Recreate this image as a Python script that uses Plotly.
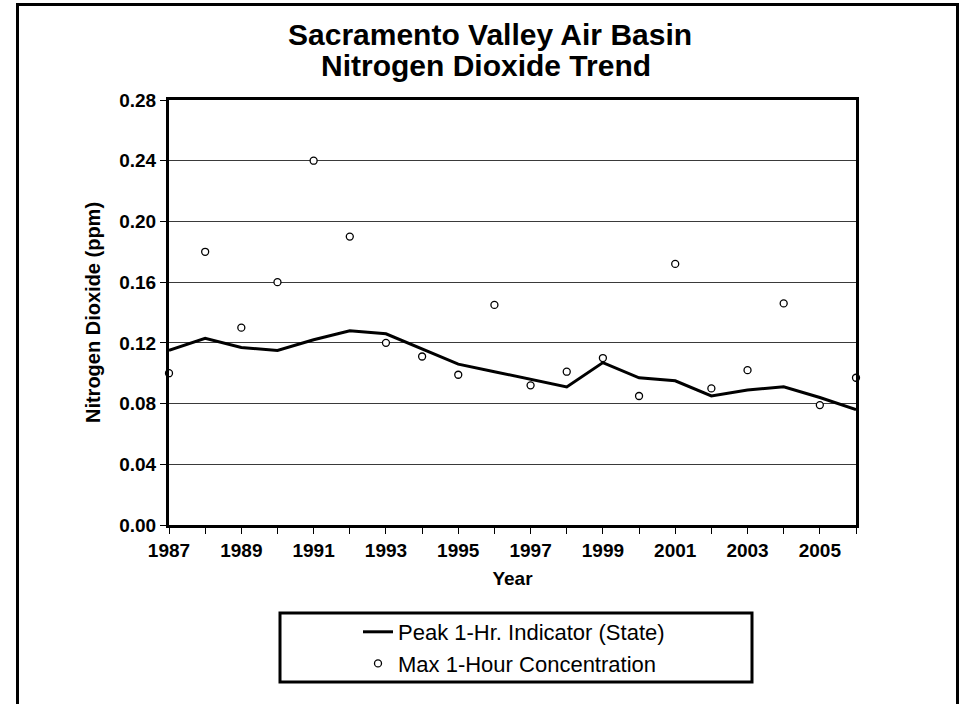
import plotly.graph_objects as go

# Sacramento Valley Air Basin NO2 trend data (ppm)
years = list(range(1987, 2007))
peak_indicator = [0.115, 0.123, 0.117, 0.115, 0.122, 0.128, 0.126, 0.116, 0.106, 0.101,
                  0.096, 0.091, 0.107, 0.097, 0.095, 0.085, 0.089, 0.091, 0.084, 0.076]
max_1hour = [0.100, 0.180, 0.130, 0.160, 0.240, 0.190, 0.120, 0.111, 0.099, 0.145,
             0.092, 0.101, 0.110, 0.085, 0.172, 0.090, 0.102, 0.146, 0.079, 0.097]
y_ticks = [0.00, 0.04, 0.08, 0.12, 0.16, 0.20, 0.24, 0.28]
x_tick_text = [str(y) if (y - 1987) % 2 == 0 else "" for y in years]
title_lines = ["Sacramento Valley Air Basin", "Nitrogen Dioxide Trend"]

W, H = 965, 704
L, R, T, B = 169, 856, 100, 525  # plot area in pixels
pw, ph = R - L, B - T


def px(x):
    return (x - L) / pw


def py(y):
    return (B - y) / ph


fig = go.Figure()
fig.add_trace(go.Scatter(
    x=years, y=peak_indicator, mode="lines", name="Peak 1-Hr. Indicator (State)",
    line=dict(color="black", width=3), cliponaxis=False,
))
fig.add_trace(go.Scatter(
    x=years, y=max_1hour, mode="markers", name="Max 1-Hour Concentration",
    marker=dict(symbol="circle", size=7, color="white", line=dict(color="black", width=1.3)),
    cliponaxis=False,
))

sans = "Liberation Sans, Arial, sans-serif"
tick_font = dict(family=sans, size=19, color="black", weight="bold")
title_font = dict(family=sans, size=30, color="black", weight="bold")

fig.update_layout(
    width=W, height=H,
    margin=dict(l=L, r=W - R, t=T, b=H - B, pad=0),
    paper_bgcolor="white", plot_bgcolor="white",
    showlegend=True,
    legend=dict(
        x=px(358), y=py(611), xanchor="left", yanchor="top",
        bgcolor="rgba(0,0,0,0)", borderwidth=0,
        font=dict(family=sans, size=22, color="black"),
        tracegroupgap=0,
    ),
    xaxis=dict(
        range=[1987, 2006], tickvals=years, ticktext=x_tick_text,
        ticks="outside", ticklen=6, tickwidth=1, tickcolor="black",
        showline=True, linecolor="black", linewidth=3, mirror=True,
        showgrid=False, zeroline=False, tickfont=tick_font,
        title=dict(text="Year", font=tick_font, standoff=12),
    ),
    yaxis=dict(
        range=[0, 0.28], tickvals=y_ticks, ticktext=[f"{v:.2f}" for v in y_ticks],
        ticks="outside", ticklen=6, tickwidth=1, tickcolor="black",
        showline=True, linecolor="black", linewidth=3, mirror=True,
        showgrid=True, gridcolor="#3a3a3a", gridwidth=1.3, zeroline=False,
        tickfont=tick_font,
        title=dict(text="Nitrogen Dioxide (ppm)",
                   font=dict(family=sans, size=20, color="black", weight="bold"),
                   standoff=14),
    ),
    shapes=[
        # outer chart frame
        dict(type="rect", xref="paper", yref="paper",
             x0=px(17.5), x1=px(957.5), y0=py(712), y1=py(4.5),
             line=dict(color="black", width=3), layer="below"),
        # legend frame
        dict(type="rect", xref="paper", yref="paper",
             x0=px(280), x1=px(752), y0=py(682), y1=py(613),
             line=dict(color="black", width=3)),
    ],
    annotations=[
        dict(text=title_lines[0], xref="paper", yref="paper",
             x=px(490), y=py(34), xanchor="center", yanchor="middle", showarrow=False,
             font=title_font),
        dict(text=title_lines[1], xref="paper", yref="paper",
             x=px(486), y=py(65), xanchor="center", yanchor="middle", showarrow=False,
             font=title_font),
    ],
)

fig.write_html("out.html")
